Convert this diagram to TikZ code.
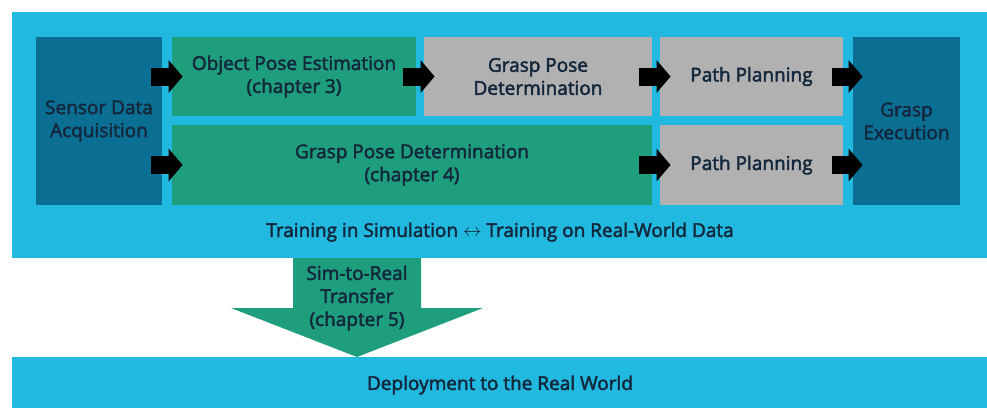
\documentclass[tikz,border=0pt]{standalone}
\usepackage{fontspec}
\setmainfont{Open Sans}[BoldFont={Open Sans}, BoldFeatures={FakeBold=2.5}]
\usepackage{tikz}
\usetikzlibrary{positioning,calc,arrows.meta}

\definecolor{panelblue}{HTML}{22B9E1}
\definecolor{darkblue}{HTML}{0B6F94}
\definecolor{stepgreen}{HTML}{1F9E7D}
\definecolor{stepgray}{HTML}{B1B1B1}
\definecolor{textnavy}{HTML}{13283C}

\tikzset{
    stagebox/.style={inner sep=0pt, align=center, text=textnavy,
        font=\fontsize{9.5}{11.5}\selectfont\bfseries},
    blockarrow/.style={line width=9pt, black, -{Triangle[length=7pt,width=16pt]}}
}

\begin{document}
\begin{tikzpicture}[x=0.5pt, y=-0.5pt]
    \useasboundingbox (0,0) rectangle (987,408);

    % Simulation panel
    \fill [panelblue] (12,12) rectangle (987,258);

    % Pipeline stages
    \node [stagebox, fill=darkblue, minimum width=63pt, minimum height=84pt] (sda) at (99,121) {Sensor Data\\Acquisition};
    \node [stagebox, fill=stepgreen, minimum width=122pt, minimum height=39.5pt] (ope) at (294,76.5) {Object Pose Estimation\\(chapter 3)};
    \node [stagebox, fill=stepgray, minimum width=114pt, minimum height=39.5pt] (gpd) at (538,76.5) {Grasp Pose\\Determination};
    \node [stagebox, fill=stepgray, minimum width=91.5pt, minimum height=39.5pt] (ppa) at (751.5,76.5) {Path Planning};
    \node [stagebox, fill=darkblue, minimum width=53.5pt, minimum height=84pt] (gex) at (906.5,121) {Grasp\\Execution};
    \node [stagebox, fill=stepgreen, minimum width=240pt, minimum height=40pt] (gpdl) at (412,165) {Grasp Pose Determination\\(chapter 4)};
    \node [stagebox, fill=stepgray, minimum width=91.5pt, minimum height=40pt] (ppb) at (751.5,165) {Path Planning};

    % Block arrows, upper row
    \draw [blockarrow] ([xshift=-5.5pt]sda.east |- ope.west) -- ([xshift=5.5pt]ope.west);
    \draw [blockarrow] ([xshift=-6.5pt]ope.east) -- ([xshift=5.5pt]gpd.west);
    \draw [blockarrow] ([xshift=-6.5pt]gpd.east) -- ([xshift=5.5pt]ppa.west);
    \draw [blockarrow] ([xshift=-5.5pt]ppa.east) -- ([xshift=5pt]gex.west |- ppa.east);

    % Block arrows, lower row
    \draw [blockarrow] ([xshift=-5.5pt]sda.east |- gpdl.west) -- ([xshift=5.5pt]gpdl.west);
    \draw [blockarrow] ([xshift=-6.5pt]gpdl.east) -- ([xshift=5.5pt]ppb.west);
    \draw [blockarrow] ([xshift=-5.5pt]ppb.east) -- ([xshift=5pt]gex.west |- ppb.east);

    \node [stagebox] (train) at (500,232) {Training in Simulation $\leftrightarrow$ Training on Real-World Data};

    % Sim-to-real arrow
    \fill [stepgreen] (293,258) -- (421,258) -- (421,308) -- (483,308) -- (357,357) -- (231,308) -- (293,308) -- cycle;
    \node [stagebox] (s2r) at (357,298) {Sim-to-Real\\Transfer\\(chapter 5)};

    % Deployment panel
    \fill [panelblue] (12,357) rectangle (987,408);
    \node [stagebox] (deploy) at (500,385) {Deployment to the Real World};
\end{tikzpicture}
\end{document}
